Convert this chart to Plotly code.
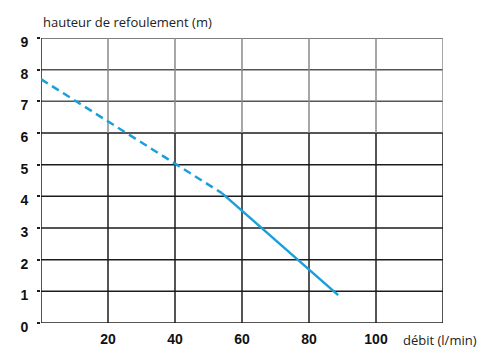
import plotly.graph_objects as go

# Data
x_ticks = [20, 40, 60, 80, 100]
y_ticks = [0, 1, 2, 3, 4, 5, 6, 7, 8, 9]
x_grid = [0, 20, 40, 60, 80, 100, 120]
dash_x = [0, 25, 40, 54]
dash_y = [7.7, 6.03, 5.03, 4.1]
solid_x = [54, 62.4, 76.7, 88.7]
solid_y = [4.1, 3.32, 1.99, 0.88]

x_title = "débit (l/min)"
y_title = "hauteur de refoulement (m)"

fig = go.Figure()

shapes = []
upper_h = "#555555"
lower = "#1c1c1c"
upper_v = "#8a8a8a"
for yv in y_ticks:
    shapes.append(dict(type="line", xref="x", yref="y", x0=0, x1=120, y0=yv, y1=yv,
                       line=dict(color=upper_h if yv > 6 else lower, width=1.5), layer="below"))
for xv in x_grid:
    shapes.append(dict(type="line", xref="x", yref="y", x0=xv, x1=xv, y0=6, y1=9,
                       line=dict(color=upper_v if xv > 0 else lower, width=1.5), layer="below"))
    shapes.append(dict(type="line", xref="x", yref="y", x0=xv, x1=xv, y0=0, y1=6,
                       line=dict(color=lower, width=1.5), layer="below"))

fig.add_trace(go.Scatter(x=dash_x, y=dash_y, mode="lines",
                         line=dict(color="#1b9fdb", width=2.5, dash="8px,5px"),
                         hoverinfo="skip"))
fig.add_trace(go.Scatter(x=solid_x, y=solid_y, mode="lines",
                         line=dict(color="#1b9fdb", width=2.5),
                         hoverinfo="skip"))

fig.update_layout(
    width=500, height=361,
    margin=dict(l=41, r=57, t=38, b=38),
    paper_bgcolor="white", plot_bgcolor="white",
    showlegend=False,
    shapes=shapes,
    xaxis=dict(range=[0, 120], tickvals=x_ticks, ticktext=[str(v) for v in x_ticks],
               showgrid=False, zeroline=False, showline=False,
               tickfont=dict(family="Liberation Sans", size=14, color="#111111", weight="bold"),
               ticks="", ticklabelstandoff=6),
    yaxis=dict(range=[0, 9], tickvals=y_ticks, ticktext=[str(v) for v in y_ticks],
               showgrid=False, zeroline=False, showline=False,
               tickfont=dict(family="Liberation Sans", size=14, color="#111111", weight="bold"),
               ticks="outside", ticklen=3, tickcolor=lower, tickwidth=1.5,
               ticklabelstandoff=6, ticklabelshift=4),
    annotations=[
        dict(text=y_title, xref="paper", yref="paper", x=0, y=1, xanchor="left", yanchor="bottom",
             yshift=5, showarrow=False,
             font=dict(family="Open Sans", size=13, color="#222222")),
        dict(text=x_title, xref="x", yref="paper", x=107.5, y=0, xanchor="left", yanchor="top",
             yshift=-6, showarrow=False,
             font=dict(family="Open Sans", size=13, color="#222222")),
    ],
)

fig.write_html("out.html")
